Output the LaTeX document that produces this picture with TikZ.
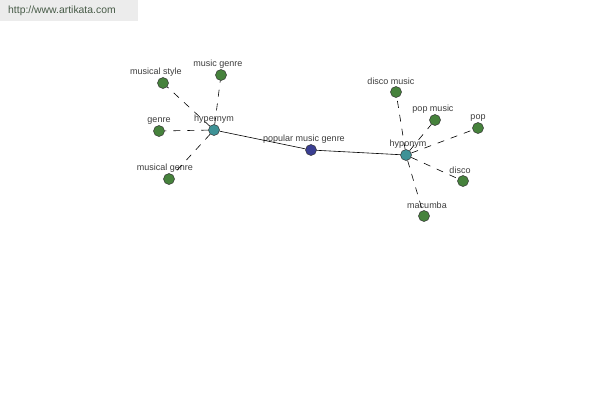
\documentclass[tikz,border=0pt]{standalone}
\usepackage{fontspec}
\setmainfont{Liberation Sans}
\usepackage{tikz}
\usetikzlibrary{shapes.geometric, arrows}

\definecolor{leafgreen}{RGB}{70,130,60}
\definecolor{hubteal}{RGB}{62,146,150}
\definecolor{rootblue}{RGB}{58,62,146}
\definecolor{urlgray}{RGB}{236,236,236}
\definecolor{urltext}{RGB}{70,90,70}
\definecolor{labgray}{RGB}{60,60,60}

\tikzset{
 dot/.style={circle, draw=black!80, line width=0.5pt, inner sep=0pt, minimum size=11pt},
 leaf/.style={dot, fill=leafgreen},
 hub/.style={dot, fill=hubteal},
 root/.style={dot, fill=rootblue},
 lab/.style={font=\fontsize{9}{10}\selectfont, text=labgray, inner sep=0pt, label distance=1pt},
 rel/.style={dashed, dash pattern=on 7pt off 7pt, line width=0.6pt},
 link/.style={line width=0.6pt}
}

\begin{document}
\begin{tikzpicture}[x=1pt, y=-1pt]
 \useasboundingbox (0,0) rectangle (600,400);
 \fill[urlgray] (0,0) rectangle (138,21);
 \node[anchor=west, text=urltext, font=\fontsize{10.4}{12}\selectfont, inner sep=0pt] (url) at (8,11) {http://www.artikata.com};

 % hypernym side
 \node[hub, label={[lab]above:hypernym}] (hyper) at (214,130) {};
 \node[leaf, label={[lab, xshift=-7pt]above:musical style}] (mstyle) at (163,83) {};
 \node[leaf, label={[lab, xshift=-3pt]above:music genre}] (mgenre) at (221,75) {};
 \node[leaf, label={[lab]above:genre}] (genre) at (159,131) {};
 \node[leaf, label={[lab, xshift=-4pt]above:musical genre}] (mlgenre) at (169,179) {};

 % centre
 \node[root, label={[lab, xshift=-7pt]above:popular music genre}] (popgenre) at (311,150) {};

 % hyponym side
 \node[hub, label={[lab, xshift=2pt]above:hyponym}] (hypo) at (406,155) {};
 \node[leaf, label={[lab, xshift=-5pt]above:disco music}] (dmusic) at (396,92) {};
 \node[leaf, label={[lab, xshift=-2pt]above:pop music}] (pmusic) at (435,120) {};
 \node[leaf, label={[lab]above:pop}] (pop) at (478,128) {};
 \node[leaf, label={[lab, xshift=-3pt]above:disco}] (disco) at (463,181) {};
 \node[leaf, label={[lab, xshift=3pt]above:macumba}] (macumba) at (424,216) {};

 \draw[link] (hyper) -- (popgenre);
 \draw[link] (popgenre) -- (hypo);
 \foreach \t in {mstyle, mgenre, genre, mlgenre}
  \draw[rel] (hyper) -- (\t);
 \foreach \t in {dmusic, pmusic, pop, disco, macumba}
  \draw[rel] (hypo) -- (\t);
\end{tikzpicture}
\end{document}
